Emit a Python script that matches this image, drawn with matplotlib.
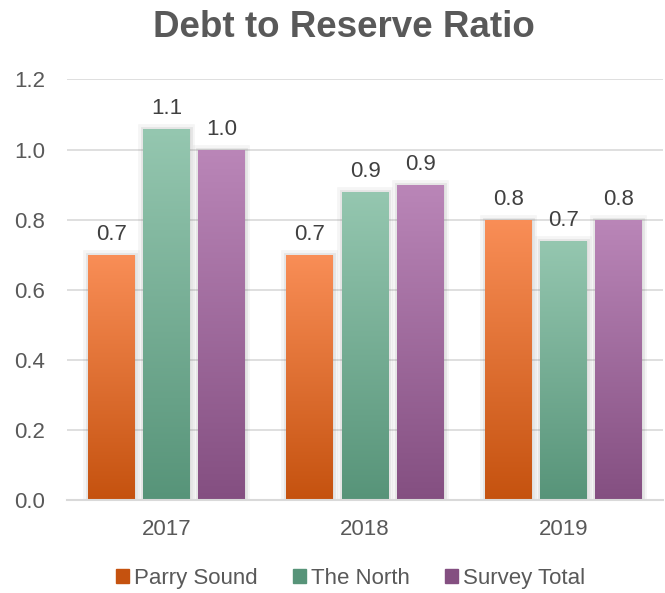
import numpy as np
import matplotlib
matplotlib.use("Agg")
import matplotlib.pyplot as plt
import matplotlib.patheffects as pe
from matplotlib.colors import LinearSegmentedColormap

plt.rcParams['font.family'] = ['Liberation Sans', 'DejaVu Sans']

# Data
years = ['2017', '2018', '2019']
series = ['Parry Sound', 'The North', 'Survey Total']
parry_sound = [0.70, 0.70, 0.80]
the_north = [1.06, 0.88, 0.74]
survey_total = [1.00, 0.90, 0.80]

# gradient colours (top, bottom) per series
grads = [('#F98E57', '#C5520F'), ('#95C7B0', '#579479'), ('#BA86B8', '#844F81')]
grey = '#595959'

fig = plt.figure(figsize=(6.65, 5.93), dpi=100)
ax = fig.add_axes([0.1008, 0.1568, 0.8962, 0.7092])

x = np.arange(len(years))
width = 0.236
step = 0.278
values = [parry_sound, the_north, survey_total]

# soft grey shadow around the bars
shadow = [pe.Stroke(linewidth=7, foreground='#606060', alpha=0.06),
          pe.Stroke(linewidth=3.5, foreground='#606060', alpha=0.10),
          pe.Normal()]

grad = np.linspace(1, 0, 256).reshape(-1, 1)
for i, (vals, (top, bot)) in enumerate(zip(values, grads)):
    cmap = LinearSegmentedColormap.from_list('g%d' % i, [bot, top])
    bars = ax.bar(x + (i - 1) * step, vals, width, color='#606060',
                  label=series[i], zorder=2, linewidth=0)
    for b, v in zip(bars, vals):
        b.set_path_effects(shadow)
        im = ax.imshow(grad, cmap=cmap, aspect='auto', zorder=3,
                       extent=[b.get_x(), b.get_x() + b.get_width(), 0, v],
                       vmin=0, vmax=1)
        im.set_clip_path(b)
        ax.annotate('%.1f' % v, (b.get_x() + b.get_width() / 2, v),
                    xytext=(0, 7), textcoords='offset points',
                    ha='center', va='bottom', fontsize=16, color='#404040',
                    zorder=4)

ax.set_xlim(-0.5, 2.5)
ax.set_ylim(0, 1.2)
ax.set_yticks(np.arange(0, 1.21, 0.2))
ax.set_yticklabels(['%.1f' % t for t in np.arange(0, 1.21, 0.2)])
ax.set_xticks(x)
ax.set_xticklabels(years)
ax.tick_params(axis='both', length=0, labelsize=16, labelcolor=grey)
ax.tick_params(axis='y', pad=16)
ax.tick_params(axis='x', pad=14)
ax.grid(axis='y', color='#D9D9D9', linewidth=1.2, zorder=0)
ax.set_axisbelow(True)
for s in ['top', 'right', 'left']:
    ax.spines[s].set_visible(False)
ax.spines['bottom'].set_color('#D9D9D9')
ax.spines['bottom'].set_linewidth(1.5)
ax.spines['bottom'].set_zorder(5)

fig.text(0.517, 0.953, 'Debt to Reserve Ratio', ha='center', va='center',
         fontsize=26.5, fontweight='bold', color=grey)

handles = [plt.Rectangle((0, 0), 1, 1, color=c[1]) for c in grads]
fig.legend(handles, series, loc='center', bbox_to_anchor=(0.527, 0.025),
           ncol=3, frameon=False, fontsize=16, handlelength=0.6,
           handleheight=0.6, handletextpad=0.2, columnspacing=1.6,
           labelcolor=grey)

fig.savefig('out.png', dpi=100)
